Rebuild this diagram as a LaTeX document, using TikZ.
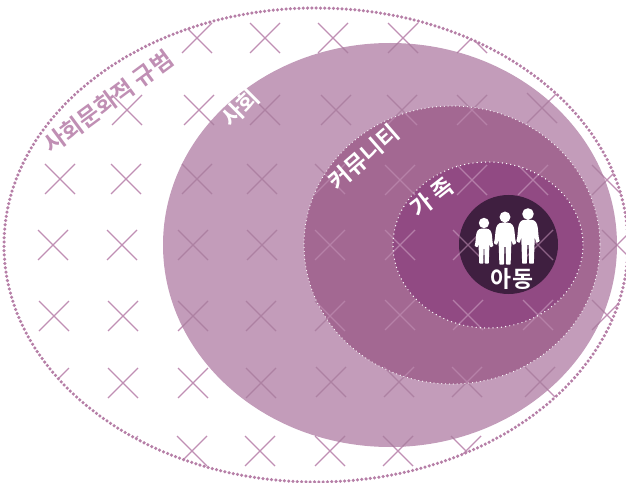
\documentclass[tikz,border=0pt]{standalone}
\usepackage{fontspec}
\newfontfamily\cjk{Noto Sans CJK KR}[BoldFont={Noto Sans CJK KR Bold}]
\definecolor{normcol}{HTML}{C08FB4}
\definecolor{ringcol}{HTML}{B67FA7}
\definecolor{societycol}{HTML}{C39CBA}
\definecolor{communitycol}{HTML}{A36892}
\definecolor{familycol}{HTML}{914A83}
\definecolor{childcol}{HTML}{3F1F40}
\newcommand{\crossgrid}[1]{%
  \foreach \cx/\cy in {197/38,265/38,333/38,403/38,472/38,
      127/110,199/110,265/110,336/110,402/110,472/110,542/108,
      60/179,126/179,197/179,262/179,330/179,400/180,472/180,533/180,607/180,
      53/245,122/245,193/245,262/245,330/245,400/245,468/245,538/245,617/245,
      54/316,123/316,193/316,261/316,330/316,400/315,468/315,538/315,607/315,
      54/383,123/383,193/383,261/383,331/382,399/382,467/382,540/382,
      123/451,192/451,260/451,330/451,398/451,466/451}
    {\draw[#1] (\cx-15,\cy-15) -- (\cx+15,\cy+15) (\cx-15,\cy+15) -- (\cx+15,\cy-15);}}
\begin{document}
\begin{tikzpicture}[x=0.02cm,y=-0.02cm,
    crossline/.style={line width=0.8pt},
    label/.style={font=\cjk\bfseries\fontsize{13}{14}\selectfont, text=white, inner sep=0pt},
    person/.style={fill=white, draw=white, line width=0.9pt, line join=round}
]
    \useasboundingbox (0,0) rectangle (626,483);

    % Crosses on the white ground
    \begin{scope}
        \clip (316,245) ellipse [x radius=312, y radius=237];
        \crossgrid{crossline, normcol}
    \end{scope}

    % Society
    \fill[societycol] (390,245) ellipse [x radius=227, y radius=202];
    \begin{scope}
        \clip (390,245) ellipse [x radius=227, y radius=202];
        \crossgrid{crossline, color=normcol!90!black}
    \end{scope}

    % Community
    \fill[communitycol] (452,245) ellipse [x radius=148, y radius=139];
    \begin{scope}
        \clip (452,245) ellipse [x radius=148, y radius=139];
        \crossgrid{crossline, color=normcol!65!communitycol}
    \end{scope}
    \draw[white, line width=0.7pt, line cap=round, dash pattern=on 0pt off 2.2pt] (452,245) ellipse [x radius=148, y radius=139];

    % Family
    \fill[familycol] (488,245) ellipse [x radius=95, y radius=83];
    \begin{scope}
        \clip (488,245) ellipse [x radius=95, y radius=83];
        \crossgrid{crossline, color=normcol!75!familycol}
    \end{scope}
    \draw[white, line width=0.8pt, line cap=round, dash pattern=on 0pt off 2.4pt] (488,245) ellipse [x radius=95, y radius=83];

    % Child
    \fill[childcol] (508.5,244.5) circle [radius=49.5];
    \begin{scope}
        \clip (508.5,244.5) circle [radius=49.5];
        \crossgrid{crossline, color=normcol!60!childcol}
    \end{scope}

    % Outer dotted ring
    \draw[ringcol, line width=2pt, line cap=round, dash pattern=on 0pt off 2.45pt] (316,245) ellipse [x radius=312, y radius=237];

    % People
    \foreach \px/\py/\ps/\hy/\hr in {484/229/0.87/-6.9/5, 505/223/1.05/-5.7/4.4, 528/220/1.1/-5.5/4.5} {
        \filldraw[person, shift={(\px,\py)}, scale=\ps]
            (0,\hy) circle [radius=\hr]
            (-2.5,0.5) to[out=180,in=72] (-9.8,19) -- (-8,20) -- (-5.6,11) -- (-4.6,39) -- (-1.7,39) -- (-1.3,22)
            -- (1.3,22) -- (1.7,39) -- (4.6,39) -- (5.6,11) -- (8,20) -- (9.8,19) to[out=108,in=0] (2.5,0.5) -- cycle;
    }

    % Labels
    \node[label, text=normcol, font=\cjk\bfseries\fontsize{13.2}{14}\selectfont, rotate=36.5] (norm_label) at (108,102) {사회문화적 규범};
    \node[label, rotate=45] (society_label) at (240,108) {사회};
    \node[label, rotate=41] (community_label) at (364,157) {커뮤니티};
    \node[label, rotate=38] (family_label) at (432,197) {가\kern3pt 족};
    \node[label] (child_label) at (512,279) {아동};
\end{tikzpicture}
\end{document}
